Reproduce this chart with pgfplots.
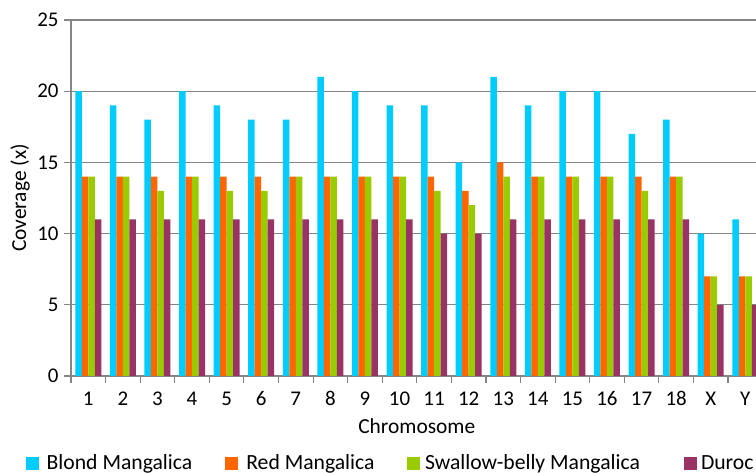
\documentclass[border=0pt]{standalone}
\usepackage{pgfplots}
\pgfplotsset{compat=1.18}
\usepackage{pgfplotstable}
\usepackage{fontspec}
\setmainfont{Carlito}
\definecolor{blond}{RGB}{0,204,255}
\definecolor{redm}{RGB}{255,102,0}
\definecolor{swallow}{RGB}{153,204,0}
\definecolor{duroc}{RGB}{153,51,102}
\definecolor{gridgray}{RGB}{134,134,134}
\pgfplotstableread{
idx blond red swallow duroc
0 20 14 14 11
1 19 14 14 11
2 18 14 13 11
3 20 14 14 11
4 19 14 13 11
5 18 14 13 11
6 18 14 14 11
7 21 14 14 11
8 20 14 14 11
9 19 14 14 11
10 19 14 13 10
11 15 13 12 10
12 21 15 14 11
13 19 14 14 11
14 20 14 14 11
15 20 14 14 11
16 17 14 13 11
17 18 14 14 11
18 10 7 7 5
19 11 7 7 5
}\datatable
\begin{document}
\begin{tikzpicture}
\clip (0,0) rectangle (756bp,473bp);
\begin{axis}[
  at={(71bp,97bp)}, anchor=south west,
  scale only axis, width=691.6bp, height=356bp,
  xmin=-0.5, xmax=19.5, ymin=0, ymax=25,
  ytick={0,5,...,25},
  ymajorgrids, grid style={color=gridgray, line width=1.1bp},
  axis x line*=bottom, axis y line*=left,
  axis line style={color=gridgray, line width=1.1bp},
  xtick={-0.5,0.5,...,19.5},
  x tick label as interval,
  xticklabels={1,2,3,4,5,6,7,8,9,10,11,12,13,14,15,16,17,18,X,Y},
  tick align=outside, major tick length=7bp,
  tick style={color=gridgray, line width=1.1bp},
  /pgf/number format/assume math mode=true,
  ticklabel style={font=\fontsize{21}{25}\selectfont, text=black},
  xticklabel style={anchor=base, yshift=-22bp},
  yticklabel style={anchor=east, xshift=-2bp},
  label style={font=\fontsize{21.5}{26}\selectfont},
  xlabel={Chromosome},
  xlabel style={at={(axis description cs:0.5,0)}, anchor=base, yshift=-57bp},
  ylabel={Coverage (x)},
  ylabel style={at={(axis description cs:-0.0737,0.5)}, anchor=center},
  ybar=0pt, bar width=6.5bp,
  legend columns=4,
  legend image code/.code={\fill[#1] (0bp,-6.5bp) rectangle (13bp,6.5bp);},
  legend style={draw=none, fill=none, inner sep=0pt, outer sep=0pt,
    at={(axis description cs:0,0)}, anchor=west, xshift=-45bp, yshift=-87bp,
    font=\fontsize{21.75}{26}\selectfont,
    nodes={inner sep=0pt},
    /tikz/every even column/.style={column sep=0pt},
    /tikz/every odd column/.style={column sep=0pt}},
  legend cell align=left,
]
\addplot[fill=blond, draw=none] table[x=idx, y=blond] {\datatable};
\addlegendentry{\hspace{7.7bp}Blond Mangalica\rule{32.7bp}{0pt}}
\addplot[fill=redm, draw=none] table[x=idx, y=red] {\datatable};
\addlegendentry{\hspace{8.3bp}Red Mangalica\rule{32.5bp}{0pt}}
\addplot[fill=swallow, draw=none] table[x=idx, y=swallow] {\datatable};
\addlegendentry{\hspace{5bp}Swallow-belly Mangalica\rule{44bp}{0pt}}
\addplot[fill=duroc, draw=none] table[x=idx, y=duroc] {\datatable};
\addlegendentry{\hspace{4bp}Duroc}
\end{axis}
\end{tikzpicture}
\end{document}
